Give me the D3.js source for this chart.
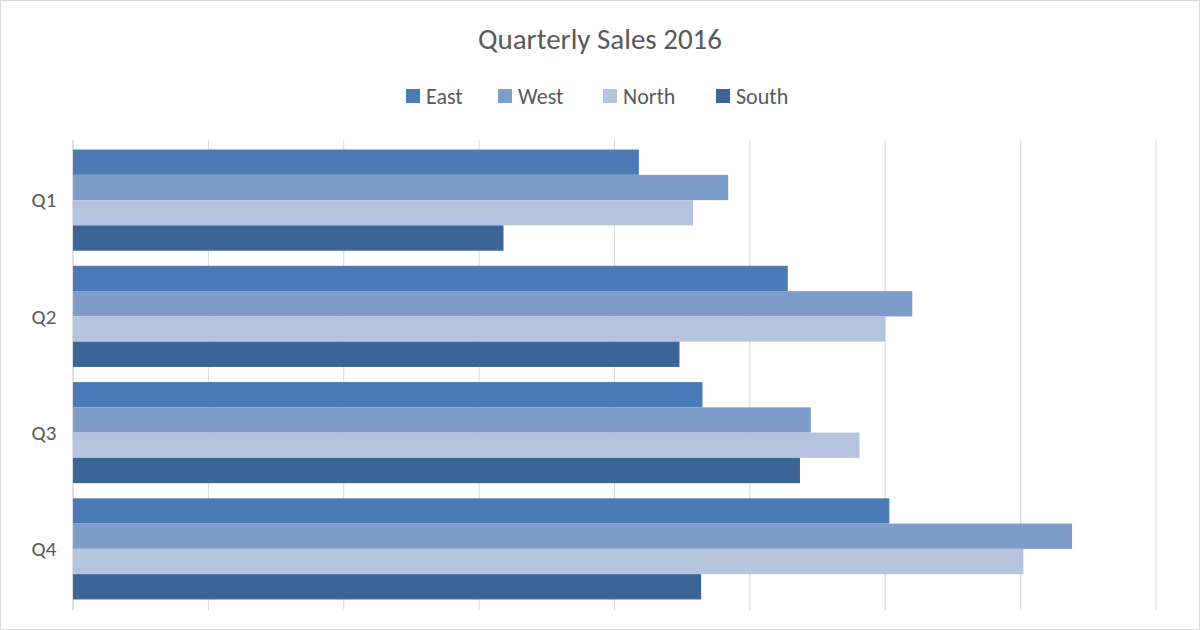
<!DOCTYPE html>
<html><head><meta charset="utf-8">
<script src="https://cdn.jsdelivr.net/npm/d3@7"></script>
<style>body{margin:0;background:#fff}text{font-family:Calibri,Carlito,"Open Sans",sans-serif}</style>
</head><body><svg id="c" width="1200" height="630"></svg>
<script>
var quarters = ['Q1', 'Q2', 'Q3', 'Q4'];
var regions = ['East', 'West', 'North', 'South'];
var east = [41.8, 52.8, 46.5, 60.3];
var west = [48.4, 62.0, 54.5, 73.8];
var north = [45.8, 60.0, 58.1, 70.2];
var south = [31.8, 44.8, 53.7, 46.4];
var colors = ['#4a7bb6', '#7d9cc9', '#b5c3df', '#3b6594'];

var series = [east, west, north, south];
var svg = d3.select('#c');
svg.append('rect').attr('x', 0.5).attr('y', 0.5).attr('width', 1199).attr('height', 629)
	.attr('fill', 'none').attr('stroke', '#d9d9d9');

var x = d3.scaleLinear().domain([0, 80]).range([73, 1156]);
var y0 = d3.scaleBand().domain(quarters).range([142, 607]).paddingInner(0.13).paddingOuter(0.065);
var y1 = d3.scaleBand().domain(regions).range([0, y0.bandwidth()]);

// gridlines
svg.selectAll('line.grid').data(x.ticks(8)).enter().append('line')
	.attr('x1', function(d) { return x(d); }).attr('x2', function(d) { return x(d); })
	.attr('y1', 140).attr('y2', 610)
	.attr('stroke', function(d) { return d === 0 ? '#bfbfbf' : '#d9d9d9'; });

var g = svg.selectAll('g.q').data(quarters).enter().append('g')
	.attr('transform', function(d) { return 'translate(0,' + y0(d) + ')'; });
g.selectAll('rect').data(function(q, qi) {
	return regions.map(function(r, ri) { return {r: r, v: series[ri][qi], c: colors[ri]}; });
}).enter().append('rect')
	.attr('x', x(0)).attr('y', function(d) { return y1(d.r); })
	.attr('width', function(d) { return x(d.v) - x(0); })
	.attr('height', y1.bandwidth()).attr('fill', function(d) { return d.c; });

svg.selectAll('text.q').data(quarters).enter().append('text')
	.attr('x', 44).attr('y', function(d) { return y0(d) + y0.bandwidth() / 2; })
	.attr('dy', '0.35em').attr('text-anchor', 'middle').attr('font-size', 21).attr('fill', '#595959')
	.text(function(d) { return d; });

svg.append('text').attr('x', 600).attr('y', 49).attr('text-anchor', 'middle')
	.attr('font-size', 29).attr('fill', '#595959').text('Quarterly Sales 2016');

// legend
var lx = [406, 498, 603, 716];
var lg = svg.selectAll('g.l').data(regions).enter().append('g')
	.attr('transform', function(d, i) { return 'translate(' + lx[i] + ',96)'; });
lg.append('rect').attr('x', 0).attr('y', -7).attr('width', 14).attr('height', 14)
	.attr('fill', function(d, i) { return colors[i]; });
lg.append('text').attr('x', 20).attr('dy', '0.35em').attr('font-size', 22).attr('fill', '#595959')
	.text(function(d) { return d; });
</script></body></html>
